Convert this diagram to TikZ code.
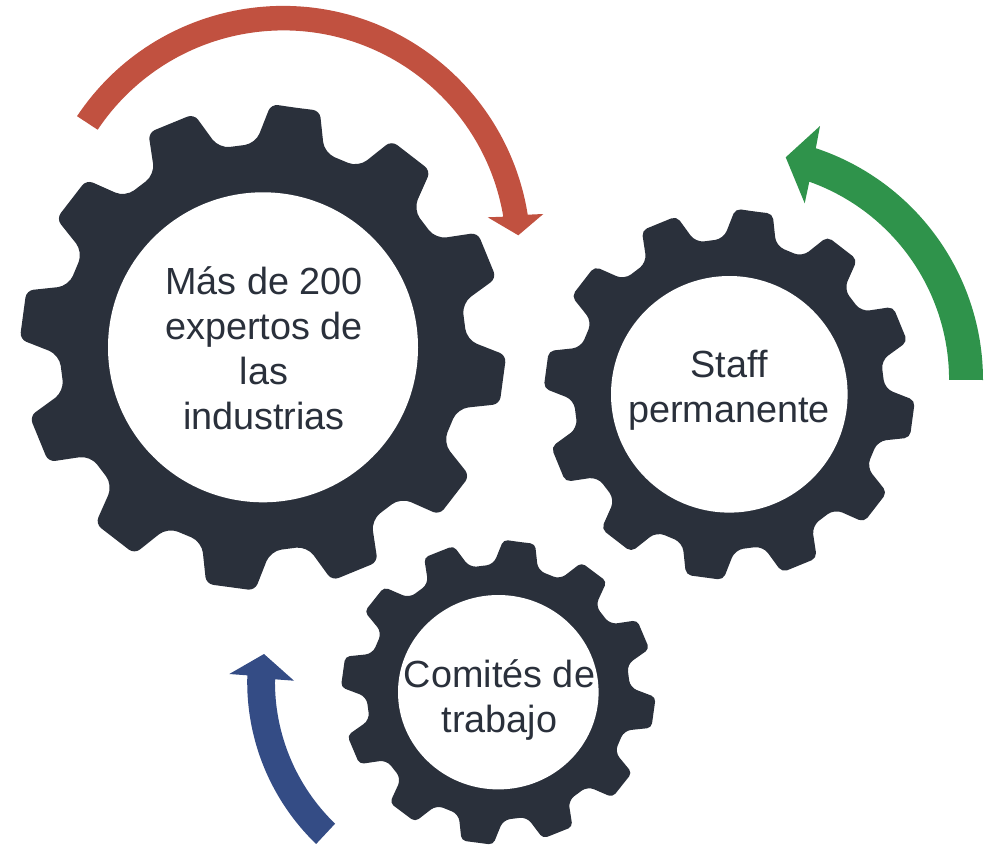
\documentclass[tikz,border=0pt]{standalone}
\usepackage{fontspec}
\setmainfont{Liberation Sans}
\usetikzlibrary{shapes.geometric}
\definecolor{geardark}{HTML}{2A303B}
\definecolor{arrowred}{HTML}{C15140}
\definecolor{arrowgreen}{HTML}{2F934B}
\definecolor{arrowblue}{HTML}{344C85}
\tikzset{
  gearbody/.style={fill=geardark},
  gearhole/.style={ellipse,fill=white,inner sep=0pt},
  gearlabel/.style={text=geardark,align=center,anchor=base,inner sep=0pt,font=\fontsize{37.8}{44.7}\selectfont},
}
% cx, cy, rx, ry, tip corner radius, valley corner radius
\newcommand{\gearshape}[6]{%
  \begin{scope}[shift={(#1,#2)},xscale=#3,yscale=#4]
    \fill[gearbody,rounded corners=#5pt] (-82.3:1.56)
      \foreach \k in {0,...,11}{%
        \pgfextra{\pgfmathsetmacro{\tang}{-82.3+30*\k}}
        -- (\tang+5.8:1.57) [rounded corners=#6pt] -- (\tang+9.8:1.315) -- (\tang+20.2:1.315)
        [rounded corners=#5pt] -- (\tang+24.2:1.57)
      } -- cycle;
  \end{scope}}
\begin{document}
\begin{tikzpicture}[x=1pt,y=1pt,yscale=-1]
\useasboundingbox (0,0) rectangle (999,846);
% gears
\gearshape{263}{347.3}{155}{155}{7}{11}
\gearshape{729.3}{394.3}{118.3}{118.3}{5.5}{8.5}
\gearshape{498.3}{692.2}{100.3}{97.2}{4.5}{7}
\node[gearhole,minimum width=310pt,minimum height=310pt] (holeA) at (263,347.3) {};
\node[gearhole,minimum width=236.6pt,minimum height=236.6pt] (holeB) at (729.3,394.3) {};
\node[gearhole,minimum width=200.6pt,minimum height=194.4pt] (holeC) at (498.3,692.2) {};
% labels
\node[gearlabel] (labelA) at (264,429) {Más de 200\\expertos de\\las\\industrias};
\node[gearlabel] (labelB) at (729,422) {Staff\\permanente};
\node[gearlabel] (labelC) at (499.5,732) {Comités de\\trabajo};
% red arrow
\coordinate (redC) at (283.1,253.6);
\fill[arrowred] (redC) ++(-146.3:247.7pt) arc[start angle=-146.3,end angle=-9.04,radius=247.7pt]
  -- (543.3,214) -- (518.3,235.3) -- (487.7,217.3)
  -- (503.3,216.7) arc[start angle=-9.5,end angle=-146.3,radius=223.1pt] -- cycle;
% green arrow
\coordinate (greenC) at (738.7,380);
\fill[arrowgreen] (greenC) ++(0:244.3pt) arc[start angle=0,end angle=-71.6,radius=244.3pt]
  -- (820,126) -- (785.7,157.3) -- (804.7,203.3)
  -- (809.3,181.7) arc[start angle=-70.4,end angle=0,radius=210.3pt] -- cycle;
% blue arrow
\coordinate (blueC) at (472,682);
\fill[arrowblue] (blueC) ++(133.9:224.8pt) arc[start angle=133.9,end angle=181.7,radius=224.8pt]
  -- (229.3,674) -- (264,654) -- (294,680.7)
  -- (275,679.3) arc[start angle=180.8,end angle=134,radius=196.9pt] -- cycle;
\end{tikzpicture}
\end{document}
